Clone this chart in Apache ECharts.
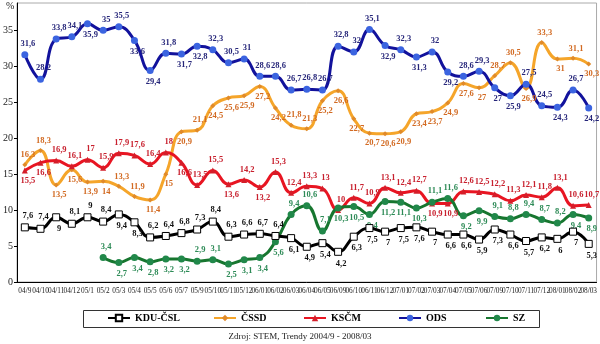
<!DOCTYPE html>
<html><head><meta charset="utf-8">
<script src="https://cdn.jsdelivr.net/npm/echarts@6/dist/echarts.min.js"></script>
<style>html,body{margin:0;padding:0;background:#fff}#c{width:600px;height:344px}</style>
</head><body><div id="c"></div>
<script>
const categories = ['04/9','04/10','04/11','04/12','05/1','05/2','05/3','05/4','05/5','05/6','05/7','05/9','05/10','05/11','05/12','06/01','06/02','06/03','06/04','06/05','06/09','06/10','06/11','06/12','07/01','07/02','07/03','07/04','07/05','07/06','07/09','07/10','07/11','07/12','08/01','08/02','08/03'];
const kdu  = [7.6,7.4,9,8.1,9,8.4,9.4,8.3,6.2,6.4,6.8,7.3,8.4,6.3,6.6,6.7,6.4,6.1,4.9,5.4,4.2,6.3,7.5,7,7.5,7.6,7,6.6,6.6,5.9,7.3,6.6,5.7,6.2,6,7,5.3];
const cssd = [16.3,18.3,13.5,15.6,13.9,14,13.3,11.9,11.4,15,20.9,21.1,24.5,25.6,25.9,27.2,24.2,21.8,21.3,25.2,26.6,22.7,20.7,20.6,20.9,23.4,23.7,24.9,27.6,27,28.7,30.5,26.9,33.3,31,31.1,30.3];
const kscm = [15.5,16.6,16.9,16.1,17,15.9,17.9,17.6,16.4,18,16.6,13.5,15.5,13.6,14.2,13.2,15.3,12.4,13.3,13,10,11.7,10.9,13.1,12.4,12.7,10.9,10.9,12.6,12.5,12.2,11.3,12.1,11.8,13.1,10.6,10.7];
const ods  = [31.6,28.2,33.8,34.1,35.9,35,35.5,33.6,29.4,31.8,31.7,32.8,32.3,30.5,31,28.6,28.6,26.7,26.8,26.7,32.8,32,35.1,32.9,32.3,31.3,32,29.2,28.6,29.3,27,25.9,27.5,24.5,24.3,26.7,24.2];
const sz   = [null,null,null,null,null,3.4,2.7,3.4,2.8,3.2,3.2,2.9,3.1,2.5,3.1,3.4,5.6,9.4,10.6,7.1,10.3,10.5,9.4,11.2,11.1,10.3,11.1,11.6,9.2,9.9,9.1,8.8,9.4,8.7,8.2,9.4,8.9];
const yTicks = [0,5,10,15,20,25,30,35];
const seriesNames = ['KDU-ČSL','ČSSD','KSČM','ODS','SZ'];
const sourceText = 'Zdroj: STEM, Trendy 2004/9 - 2008/03';

// label placement (t = above, b = below)
const labelPlace = {
  kdu:  'ttbtttbbtttttttttbbbbbbbbbbbbbbbbbbbb',
  cssd: 'ttbbbbttbbbtbbbbbttbbbbbbbbbbbttbtbtb',
  kscm: 'bbttttttttbttbtbttttttttttbbttttttttt',
  ods:  'ttttbttbbtbbtttttttttttbtbtbttbbttbtb',
  sz:   '-----tbbbbbttbbbbtttbbbbbbttbbtttttbb'
};

const FONT = 'Liberation Serif';
function fmt(v){ return String(v).replace('.', ','); }
function build(values, place){
  return values.map((v,i)=> v==null ? '-' : {value:v, label:{position: place[i]==='t'?'top':'bottom'}});
}
function mk(name, values, place, o){
  return {
    name, type:'line', smooth:0.45, data: build(values, place),
    symbol:o.symbol, symbolSize:o.size, connectNulls:false,
    lineStyle:{color:o.line, width:3},
    itemStyle:{color:o.fill, borderColor:o.border||o.fill, borderWidth:o.bw||0},
    label:{show:true, color:o.labelColor, fontFamily:FONT, fontSize:8.5, fontWeight:'bold',
      distance:3, offset:[3,0], formatter:p=>fmt(p.value)},
    z:o.z
  };
}
const chart = echarts.init(document.getElementById('c'), null, {renderer:'canvas'});
const legendX = [107,213,303,398,485];
chart.setOption({
  animation:false,
  grid:{left:16,right:3,top:3,bottom:62,show:true,borderColor:'#aaa',borderWidth:1},
  xAxis:{type:'category', data:categories, boundaryGap:true,
    axisLine:{lineStyle:{color:'#000'}}, axisTick:{lineStyle:{color:'#000'}, length:3},
    axisLabel:{interval:0, hideOverlap:false, fontFamily:FONT, fontSize:7.3, color:'#222', margin:6}},
  yAxis:{type:'value', min:0, max:38.8, interval:5,
    axisLine:{show:true, lineStyle:{color:'#000'}}, axisTick:{show:true, length:3, lineStyle:{color:'#000'}},
    splitLine:{show:false},
    axisLabel:{showMaxLabel:false, fontFamily:FONT, fontSize:10, color:'#222', margin:4,
      formatter:v=> yTicks.includes(v)? String(v):''}},
  legend: seriesNames.map((n,i)=>({data:[n], left:legendX[i], top:313, itemWidth:22, itemHeight:8, itemGap:4, padding:0,
    textStyle:{fontFamily:FONT, fontSize:10, fontWeight:'bold', color:'#000'}})),
  graphic:[
    {type:'rect', shape:{x:83.5,y:310.5,width:456,height:17}, style:{fill:'none', stroke:'#333', lineWidth:1}, silent:true},
    {type:'text', left:6, top:1, style:{text:'%', font:'10px "Liberation Serif"', fill:'#222'}},
    {type:'text', left:'center', top:332, style:{text:sourceText, font:'9px "Liberation Serif"', fill:'#222'}}
  ],
  series:[
    mk(seriesNames[0], kdu, labelPlace.kdu, {symbol:'rect', size:7, fill:'#fff', border:'#000', bw:1, line:'#000', labelColor:'#111', z:3}),
    mk(seriesNames[1], cssd, labelPlace.cssd, {symbol:'diamond', size:5, fill:'#e08a2a', line:'#f5a52a', labelColor:'#d26a22', z:2}),
    mk(seriesNames[2], kscm, labelPlace.kscm, {symbol:'triangle', size:6, fill:'#d41e2a', line:'#e81522', labelColor:'#c8202e', z:2}),
    mk(seriesNames[3], ods, labelPlace.ods, {symbol:'circle', size:7, fill:'#3b64e0', line:'#12129c', labelColor:'#26267a', z:2}),
    mk(seriesNames[4], sz, labelPlace.sz, {symbol:'circle', size:7, fill:'#21884a', line:'#17762f', labelColor:'#2e8b57', z:2})
  ]
});
</script></body></html>
